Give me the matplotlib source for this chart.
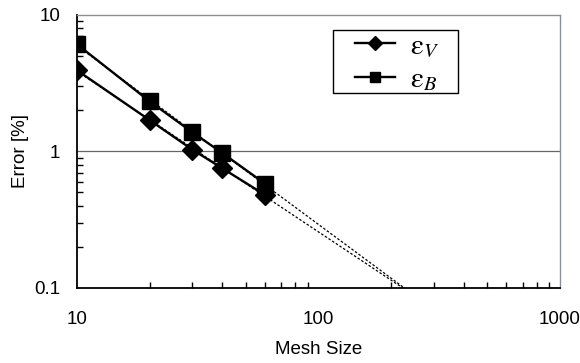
import numpy as np
import matplotlib
matplotlib.use("Agg")
import matplotlib.pyplot as plt
from matplotlib.patches import Rectangle
from matplotlib.ticker import FixedLocator, FixedFormatter, LogLocator, NullFormatter

plt.rcParams['font.family'] = ['Liberation Sans', 'DejaVu Sans']
plt.rcParams['mathtext.fontset'] = 'stix'

# values
mesh_size = [10, 20, 30, 40, 60]
err_v = [3.92, 1.69, 1.03, 0.75, 0.48]
err_b = [6.08, 2.32, 1.38, 0.97, 0.58]
series_labels = [r'$\mathrm{\varepsilon}_{V}$', r'$\mathrm{\varepsilon}_{B}$']

fig = plt.figure(figsize=(5.8, 3.63), dpi=100)
ax = fig.add_axes([0.133, 0.207, 0.8325, 0.752])

ax.set_xscale('log')
ax.set_yscale('log')
ax.set_xlim(10, 1000)
ax.set_ylim(0.1, 10)

# power-law trend lines (dotted), extended past the data
x_fit = np.logspace(1, 3, 50)
for err in (err_v, err_b):
    k, c = np.polyfit(np.log10(mesh_size), np.log10(err), 1)
    ax.plot(x_fit, 10 ** (c + k * np.log10(x_fit)), color='black',
            linestyle=(0, (2, 1.5)), linewidth=0.9, zorder=2)

ax.plot(mesh_size, err_v, color='black', linewidth=1.7, marker='D',
        markersize=10, label=series_labels[0], zorder=3)
ax.plot(mesh_size, err_b, color='black', linewidth=1.7, marker='s',
        markersize=11, label=series_labels[1], zorder=3)

# axis styling
ax.axhline(1, color='#666666', linewidth=0.9, zorder=1)
for side in ('top', 'right'):
    ax.spines[side].set_color('#8a8f99')
    ax.spines[side].set_linewidth(1.0)
for side in ('left', 'bottom'):
    ax.spines[side].set_color('black')
    ax.spines[side].set_linewidth(1.3)

ax.xaxis.set_major_locator(FixedLocator([10, 100, 1000]))
ax.xaxis.set_major_formatter(FixedFormatter(['10', '100', '1000']))
ax.yaxis.set_major_locator(FixedLocator([0.1, 1, 10]))
ax.yaxis.set_major_formatter(FixedFormatter(['0.1', '1', '10']))
for a in (ax.xaxis, ax.yaxis):
    a.set_minor_locator(LogLocator(base=10, subs=np.arange(2, 10)))
    a.set_minor_formatter(NullFormatter())

ax.tick_params(which='both', direction='in', top=False, right=False,
               labelsize=13.5, color='black')
ax.tick_params(which='major', length=0)
ax.tick_params(which='minor', length=4, width=1)
ax.tick_params(axis='x', which='major', pad=17)
ax.tick_params(axis='y', which='major', pad=12)

ax.set_xlabel('Mesh Size', fontsize=13.5, labelpad=9)
ax.set_ylabel('Error [%]', fontsize=13.5, labelpad=4)

# legend box drawn separately so its shape matches the original
ax.add_patch(Rectangle((0.530, 0.714), 0.259, 0.231, transform=ax.transAxes,
                       facecolor='white', edgecolor='black', linewidth=1.0,
                       zorder=4))
leg = ax.legend(loc='center left', bbox_to_anchor=(0.5756, 0.826),
                fontsize=21, frameon=False, handlelength=1.37,
                borderpad=0, labelspacing=0.2, handletextpad=0.5,
                borderaxespad=0)
leg.set_zorder(5)
for h in leg.legend_handles:
    h.set_markersize(7)

fig.savefig('out.png', dpi=100)
plt.close(fig)
